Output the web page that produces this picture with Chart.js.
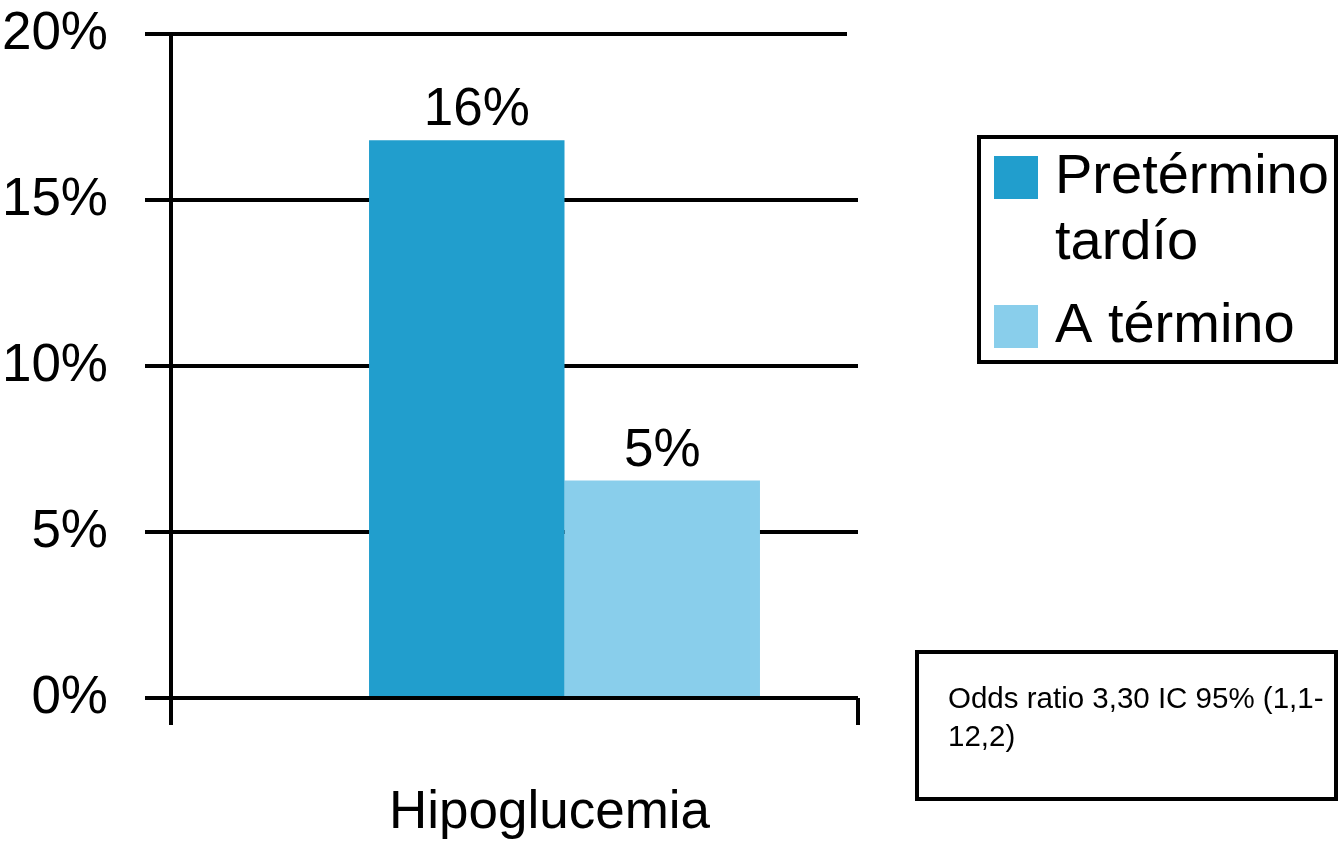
<!DOCTYPE html>
<html>
<head>
<meta charset="utf-8">
<script src="https://cdn.jsdelivr.net/npm/chart.js@4/dist/chart.umd.min.js"></script>
<style>
  html, body { margin: 0; padding: 0; background: #ffffff; }
  #wrap { position: relative; width: 1339px; height: 843px; }
  canvas { display: block; }
</style>
</head>
<body>
<div id="wrap"><canvas id="c" width="1339" height="843"></canvas></div>
<script>
// ---- data ----
const categories = ['Hipoglucemia'];
const seriesNames = ['Pretérmino tardío', 'A término'];
const pretermValues = [16.8];
const terminoValues = [6.55];
const valueLabels = ['16%', '5%'];
const yTicks = [0, 5, 10, 15, 20];
const noteLines = ['Odds ratio 3,30 IC 95% (1,1-', '12,2)'];

const colors = ['#219ecd', '#89ceeb'];
const FONT = '"Liberation Sans", Arial, Helvetica, sans-serif';

function wrapText(ctx, text, maxW) {
  const words = text.split(' ');
  const lines = [];
  let cur = '';
  for (const w of words) {
    const t = cur ? cur + ' ' + w : w;
    if (ctx.measureText(t).width > maxW && cur) { lines.push(cur); cur = w; }
    else cur = t;
  }
  if (cur) lines.push(cur);
  return lines;
}

const decorations = {
  id: 'decorations',
  beforeDatasetsDraw(chart) {
    // top gridline (20%) is slightly shorter on the right in the original
    const ctx = chart.ctx;
    const ys = chart.scales.y;
    const yTop = ys.getPixelForValue(yTicks[yTicks.length - 1]);
    ctx.save();
    ctx.strokeStyle = '#000';
    ctx.lineWidth = 4;
    ctx.beginPath();
    ctx.moveTo(145, yTop);
    ctx.lineTo(847, yTop);
    ctx.stroke();
    ctx.restore();
  },
  afterDraw(chart) {
    const ctx = chart.ctx;
    const ys = chart.scales.y;
    ctx.save();
    // vertical y-axis line (extends below zero)
    ctx.strokeStyle = '#000';
    ctx.lineWidth = 4;
    ctx.beginPath();
    ctx.moveTo(171, ys.getPixelForValue(20) - 2);
    ctx.lineTo(171, ys.getPixelForValue(0) + 27);
    ctx.stroke();

    // value labels above bars
    ctx.fillStyle = '#000';
    ctx.font = '53px ' + FONT;
    ctx.textAlign = 'center';
    ctx.textBaseline = 'alphabetic';
    chart.data.datasets.forEach((ds, i) => {
      const meta = chart.getDatasetMeta(i);
      meta.data.forEach((bar) => {
        ctx.fillText(valueLabels[i], bar.x + (i === 0 ? 10 : 0), bar.y - 15);
      });
    });

    // legend box
    ctx.lineWidth = 4;
    ctx.strokeRect(979, 137, 357, 225);
    ctx.font = '56px ' + FONT;
    ctx.textAlign = 'left';
    let base = 193;
    chart.data.datasets.forEach((ds, i) => {
      ctx.fillStyle = ds.backgroundColor;
      ctx.fillRect(994, base - 37, 44, 43);
      ctx.fillStyle = '#000';
      const lines = wrapText(ctx, ds.label, 1334 - 1056);
      lines.forEach((ln, k) => {
        ctx.fillText(ln, 1055, base + k * 66);
      });
      base += (lines.length - 1) * 66 + 83;
    });

    // note box
    ctx.lineWidth = 4;
    ctx.strokeRect(917, 652, 419, 147);
    ctx.font = '29.5px ' + FONT;
    ctx.fillStyle = '#000';
    noteLines.forEach((ln, k) => ctx.fillText(ln, 948, 708 + k * 38));
    ctx.restore();
  }
};

new Chart(document.getElementById('c'), {
  type: 'bar',
  data: {
    labels: categories,
    datasets: [
      { label: seriesNames[0], data: pretermValues, backgroundColor: colors[0], borderWidth: 0 },
      { label: seriesNames[1], data: terminoValues, backgroundColor: colors[1], borderWidth: 0 }
    ]
  },
  options: {
    responsive: false,
    devicePixelRatio: 1,
    animation: false,
    layout: { padding: { left: 0, top: 34, right: 481, bottom: 0 } },
    datasets: { bar: { categoryPercentage: 0.666, barPercentage: 1.0 } },
    plugins: { legend: { display: false }, tooltip: { enabled: false } },
    scales: {
      x: {
        type: 'category',
        border: { display: false },
        grid: {
          drawOnChartArea: false,
          lineWidth: 4,
          tickLength: 27,
          tickColor: (c) => (c.index === 0 ? 'rgba(0,0,0,0)' : '#000')
        },
        ticks: { color: '#000', font: { family: FONT, size: 53 }, padding: 57, labelOffset: -15 },
        afterFit: (s) => { s.height = 843 - 698; s.paddingLeft = 0; s.paddingRight = 0; }
      },
      y: {
        min: 0, max: 20,
        afterBuildTicks: (s) => { s.ticks = yTicks.map(v => ({ value: v })); },
        border: { display: false },
        grid: {
          color: (c) => (c.tick && c.tick.value === 20 ? 'rgba(0,0,0,0)' : '#000'),
          lineWidth: 4, tickLength: 126, tickColor: '#000'
        },
        ticks: { color: '#000', font: { family: FONT, size: 53 }, padding: 37, callback: (v) => v + '%' },
        afterFit: (s) => { s.width = 271; s.paddingTop = 0; s.paddingBottom = 0; }
      }
    }
  },
  plugins: [decorations]
});
</script>
</body>
</html>
